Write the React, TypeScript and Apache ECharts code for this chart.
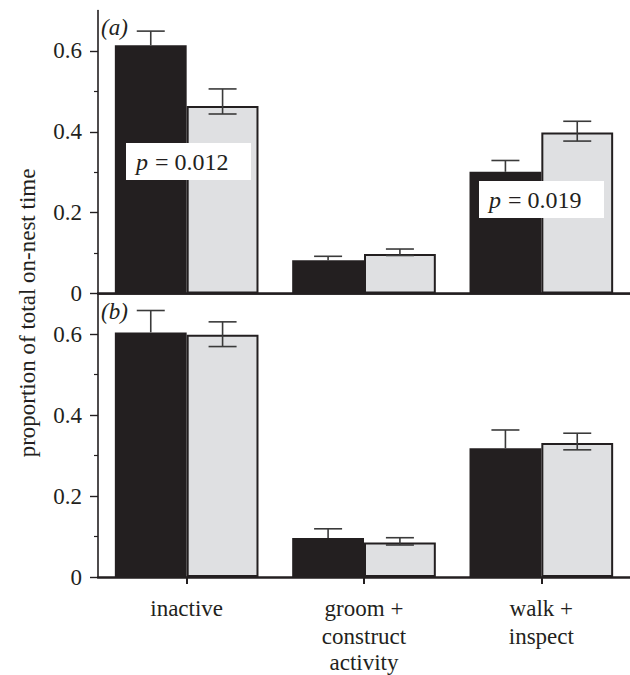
import React, { useEffect, useRef } from "react";
import * as echarts from "echarts";

const categories = ["inactive", "groom +\nconstruct", "walk +\ninspect"];
const yTicks = [0, 0.2, 0.4, 0.6];
const yMinorTicks = [0.1, 0.3, 0.5];

// panel (a)
const aBlack = [0.614, 0.082, 0.301];
const aBlackHi = [0.649, 0.092, 0.329];
const aGrey = [0.464, 0.098, 0.398];
const aGreyLo = [0.444, 0.094, 0.377];
const aGreyHi = [0.506, 0.11, 0.426];

// panel (b)
const bBlack = [0.604, 0.096, 0.318];
const bBlackHi = [0.658, 0.119, 0.363];
const bGrey = [0.598, 0.085, 0.331];
const bGreyLo = [0.569, 0.079, 0.314];
const bGreyHi = [0.63, 0.097, 0.355];

const pLabels = ["p", " = 0.012", " = 0.019"];

const FONT = "'Liberation Serif', 'DejaVu Serif', serif";
const INK = "#231f20";
const GREY = "#dfe0e2";
const GAP = 0.19;

function errRender(side: number, showLow: boolean) {
  return (params: any, api: any) => {
    const x = api.value(0);
    const lo = api.value(1);
    const hi = api.value(2);
    const band = api.size([1, 0])[0];
    const off = (side * band * (1 - GAP)) / 4;
    const pHi = api.coord([x, hi]);
    const pLo = api.coord([x, lo]);
    const cx = pHi[0] + off;
    const half = 14;
    const st = { stroke: "#3a3a3a", lineWidth: 1.6 };
    const children: any[] = [
      { type: "line", shape: { x1: cx, y1: pLo[1], x2: cx, y2: pHi[1] }, style: st },
      { type: "line", shape: { x1: cx - half, y1: pHi[1], x2: cx + half, y2: pHi[1] }, style: st },
    ];
    if (showLow) {
      children.push({ type: "line", shape: { x1: cx - half, y1: pLo[1], x2: cx + half, y2: pLo[1] }, style: st });
    }
    return { type: "group", children };
  };
}

function yAxesFor(grid: number) {
  return [
    {
      type: "value",
      gridIndex: grid,
      min: 0,
      max: 0.7,
      interval: 0.1,
      axisLine: { show: true, lineStyle: { color: INK, width: 1.6 } },
      axisTick: { show: true, inside: false, length: 8, customValues: yTicks, lineStyle: { color: INK, width: 1.4 } },
      axisLabel: {
        show: true,
        customValues: yTicks,
        margin: 16,
        fontFamily: FONT,
        fontSize: 23,
        color: INK,
        formatter: (v: number) => (v === 0 ? "0" : v.toFixed(1)),
      },
      splitLine: { show: false },
    },
    {
      type: "value",
      gridIndex: grid,
      min: 0,
      max: 0.7,
      interval: 0.1,
      position: "left",
      axisLine: { show: false },
      axisTick: { show: true, length: 4, customValues: yMinorTicks, lineStyle: { color: INK, width: 1.2 } },
      axisLabel: { show: false },
      splitLine: { show: false },
    },
  ];
}

function pBox(x: number, y: number, val: string) {
  return [
    { type: "rect", x, y, z: 20, shape: { x: 0, y: 0, width: 125, height: 37 }, style: { fill: "#ffffff" } },
    {
      type: "text", x: x + 10, y: y + 19, z: 21,
      style: { text: pLabels[0], font: "italic 24px " + FONT, fill: INK, verticalAlign: "middle", align: "left" },
    },
    {
      type: "text", x: x + 23, y: y + 19, z: 21,
      style: { text: val, font: "24px " + FONT, fill: INK, verticalAlign: "middle", align: "left" },
    },
  ];
}

export default function App() {
  const ref = useRef<HTMLDivElement>(null);
  useEffect(() => {
    if (!ref.current) return;
    const chart = echarts.init(ref.current, null, { renderer: "svg" });
    const textStyle = { fontFamily: FONT, fontSize: 23, color: INK };
    const option: any = {
      animation: false,
      backgroundColor: "#ffffff",
      textStyle: { fontFamily: FONT },
      grid: [
        { left: 98, width: 534, top: 10.5, height: 283 },
        { left: 98, width: 534, top: 293.5, height: 283.5 },
      ],
      xAxis: [
        {
          type: "category",
          gridIndex: 0,
          data: categories,
          axisLine: { show: true, lineStyle: { color: INK, width: 2.5 } },
          axisTick: { show: false },
          axisLabel: { show: false },
        },
        {
          type: "category",
          gridIndex: 0,
          position: "top",
          data: categories,
          axisLine: { show: true, lineStyle: { color: INK, width: 1.6 } },
          axisTick: { show: false },
          axisLabel: { show: false },
        },
        {
          type: "category",
          gridIndex: 1,
          data: categories,
          name: "activity",
          nameLocation: "middle",
          nameGap: 73,
          nameTextStyle: textStyle,
          axisLine: { show: true, lineStyle: { color: INK, width: 2.5 } },
          axisTick: { show: true, alignWithLabel: true, length: 7, lineStyle: { color: INK, width: 2 } },
          axisLabel: { ...textStyle, margin: 17, lineHeight: 28 },
        },
      ],
      yAxis: [...yAxesFor(0), ...yAxesFor(1)],
      series: [
        {
          type: "bar", xAxisIndex: 0, yAxisIndex: 0, data: aBlack,
          barGap: "0%", barCategoryGap: "19%",
          itemStyle: { color: INK },
        },
        {
          type: "bar", xAxisIndex: 0, yAxisIndex: 0, data: aGrey,
          barGap: "0%", barCategoryGap: "19%",
          itemStyle: { color: GREY, borderColor: INK, borderWidth: 2 },
        },
        {
          type: "custom", xAxisIndex: 0, yAxisIndex: 0, z: 5,
          renderItem: errRender(-1, false),
          data: aBlack.map((v, i) => [i, v, aBlackHi[i]]),
        },
        {
          type: "custom", xAxisIndex: 0, yAxisIndex: 0, z: 5,
          renderItem: errRender(1, true),
          data: aGrey.map((v, i) => [i, aGreyLo[i], aGreyHi[i]]),
        },
        {
          type: "bar", xAxisIndex: 2, yAxisIndex: 2, data: bBlack,
          barGap: "0%", barCategoryGap: "19%",
          itemStyle: { color: INK },
        },
        {
          type: "bar", xAxisIndex: 2, yAxisIndex: 2, data: bGrey,
          barGap: "0%", barCategoryGap: "19%",
          itemStyle: { color: GREY, borderColor: INK, borderWidth: 2 },
        },
        {
          type: "custom", xAxisIndex: 2, yAxisIndex: 2, z: 5,
          renderItem: errRender(-1, false),
          data: bBlack.map((v, i) => [i, v, bBlackHi[i]]),
        },
        {
          type: "custom", xAxisIndex: 2, yAxisIndex: 2, z: 5,
          renderItem: errRender(1, true),
          data: bGrey.map((v, i) => [i, bGreyLo[i], bGreyHi[i]]),
        },
      ],
      graphic: [
        {
          type: "text",
          x: 101, y: 27, z: 10,
          style: { text: "(a)", font: "italic 23px " + FONT, fill: INK, verticalAlign: "middle" },
        },
        {
          type: "text",
          x: 101, y: 311, z: 10,
          style: { text: "(b)", font: "italic 23px " + FONT, fill: INK, verticalAlign: "middle" },
        },
        {
          type: "text",
          x: 27, y: 313, rotation: Math.PI / 2,
          style: {
            text: "proportion of total on-nest time",
            font: "23px " + FONT, fill: INK,
            align: "center", verticalAlign: "middle",
          },
        },
        ...pBox(126, 143, pLabels[1]),
        ...pBox(479, 181, pLabels[2]),
      ],
    };
    chart.setOption(option);
    return () => chart.dispose();
  }, []);
  return (
    <div
      ref={ref}
      style={{ position: "fixed", left: 0, top: 0, width: 630, height: 675, background: "#fff" }}
    />
  );
}
